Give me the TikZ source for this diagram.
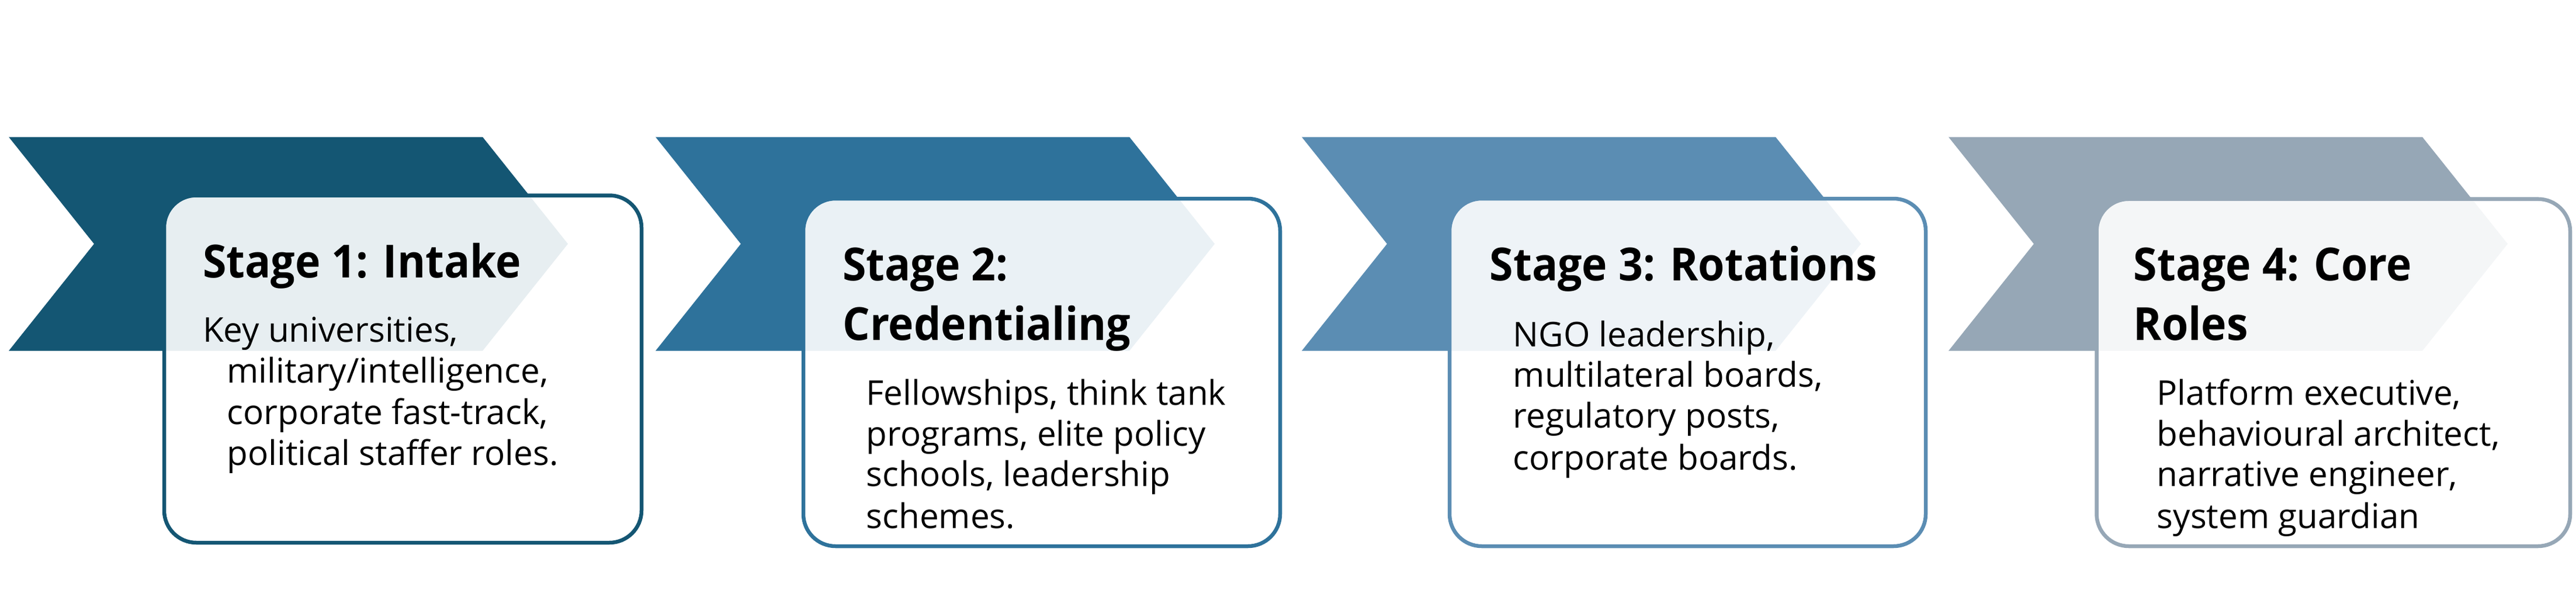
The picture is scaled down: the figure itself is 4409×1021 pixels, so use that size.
\documentclass[tikz,border=0pt]{standalone}
\usepackage{fontspec}
\setmainfont{Open Sans}[BoldFeatures={FakeStretch=0.94}]
\definecolor{cA}{HTML}{145673}
\definecolor{cB}{HTML}{2E729B}
\definecolor{cC}{HTML}{5B8DB3}
\definecolor{cD}{HTML}{96A7B6}
\tikzset{
  chev/.style={fill=#1, draw=none},
  stagebox/.style={draw=#1, line width=0.065cm, fill=white, fill opacity=0.9, draw opacity=1, rounded corners=0.55cm},
  ttl/.style={anchor=base west, inner sep=0pt, font=\fontsize{22.2}{29}\selectfont\bfseries, text=black},
  bdy/.style={anchor=base west, inner sep=0pt, font=\fontsize{16.6}{20}\selectfont, text=black}
}
\begin{document}
\begin{tikzpicture}[x=0.01cm, y=-0.01cm]
\useasboundingbox (0,0) rectangle (4409,1021);
% Stage 1
\fill[chev=cA] (15,234.5) -- (826,234.5) -- (972,417.5) -- (826,600.6) -- (15,600.6) -- (161,417.5) -- cycle;
\draw[stagebox=cA] (281,334.5) rectangle (1098,929);
\node[ttl] (t1a) at (346.4,475) {Stage 1: Intake};
\node[bdy] (b1a) at (346.4,585.7) {Key universities,};
\node[bdy] (b1b) at (387.8,655.5) {military/intelligence,};
\node[bdy] (b1c) at (387.8,726) {corporate fast-track,};
\node[bdy] (b1d) at (387.8,796) {political staffer roles.};
% Stage 2
\fill[chev=cB] (1122,234.5) -- (1933,234.5) -- (2079,417.5) -- (1933,600.6) -- (1122,600.6) -- (1268,417.5) -- cycle;
\draw[stagebox=cB] (1375,340) rectangle (2191,935);
\node[ttl] (t2a) at (1441.6,480) {Stage 2:};
\node[ttl] (t2b) at (1441.6,582) {Credentialing};
\node[bdy] (b2a) at (1482,693.5) {Fellowships, think tank};
\node[bdy] (b2b) at (1482,763) {programs, elite policy};
\node[bdy] (b2c) at (1482,832.5) {schools, leadership};
\node[bdy] (b2d) at (1482,904) {schemes.};
% Stage 3
\fill[chev=cC] (2228,234.5) -- (3039,234.5) -- (3185,417.5) -- (3039,600.6) -- (2228,600.6) -- (2374,417.5) -- cycle;
\draw[stagebox=cC] (2481,340) rectangle (3296,935);
\node[ttl] (t3a) at (2549,480) {Stage 3: Rotations};
\node[bdy] (b3a) at (2589,593) {NGO leadership,};
\node[bdy] (b3b) at (2589,662) {multilateral boards,};
\node[bdy] (b3c) at (2589,732) {regulatory posts,};
\node[bdy] (b3d) at (2589,804) {corporate boards.};
% Stage 4
\fill[chev=cD] (3335,234.5) -- (4146,234.5) -- (4292,417.5) -- (4146,600.6) -- (3335,600.6) -- (3481,417.5) -- cycle;
\draw[stagebox=cD] (3588.5,340.7) rectangle (4399,935);
\node[ttl] (t4a) at (3651,480) {Stage 4: Core};
\node[ttl] (t4b) at (3651,582) {Roles};
\node[bdy] (b4a) at (3691,693.5) {Platform executive,};
\node[bdy] (b4b) at (3691,763) {behavioural architect,};
\node[bdy] (b4c) at (3691,832.5) {narrative engineer,};
\node[bdy] (b4d) at (3691,904) {system guardian};
\end{tikzpicture}
\end{document}
